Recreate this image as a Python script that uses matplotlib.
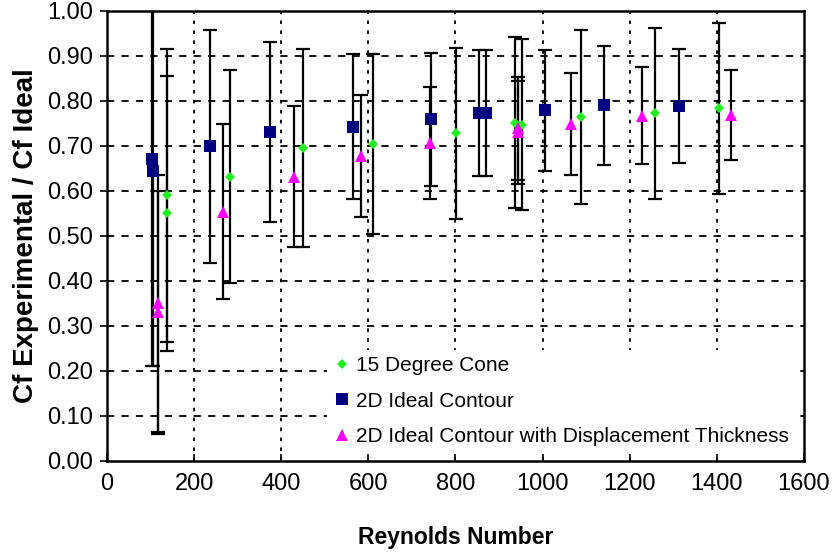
import matplotlib.pyplot as plt

plt.rcParams['font.family'] = ['Liberation Sans', 'DejaVu Sans']

# 15 degree cone
cone_re = [137, 137, 282, 449, 611, 801, 937, 952, 1088, 1258, 1405]
cone_cf = [0.590, 0.550, 0.632, 0.695, 0.704, 0.728, 0.752, 0.747, 0.764, 0.773, 0.784]
cone_err = [0.326, 0.305, 0.237, 0.220, 0.200, 0.190, 0.190, 0.190, 0.193, 0.190, 0.190]

# 2D ideal contour
ideal_re = [102, 105, 236, 374, 565, 743, 855, 870, 1006, 1141, 1314]
ideal_cf = [0.670, 0.645, 0.699, 0.730, 0.743, 0.759, 0.773, 0.773, 0.779, 0.790, 0.789]
ideal_err = [0.460, 0.435, 0.258, 0.200, 0.161, 0.148, 0.140, 0.140, 0.135, 0.133, 0.126]

# 2D ideal contour with displacement thickness
disp_re = [116, 116, 267, 429, 582, 742, 943, 943, 1065, 1228, 1433]
disp_cf = [0.350, 0.330, 0.554, 0.632, 0.678, 0.706, 0.739, 0.730, 0.749, 0.767, 0.769]
disp_err = [0.285, 0.270, 0.195, 0.157, 0.136, 0.124, 0.115, 0.115, 0.113, 0.108, 0.100]

fig = plt.figure(figsize=(8.32, 5.52), dpi=100)
ax = fig.add_axes([0.1288, 0.1649, 0.8372, 0.8152])

bar_kw = dict(fmt='none', ecolor='black', elinewidth=1.6, capsize=5, capthick=1.6, zorder=3)
ax.errorbar(ideal_re, ideal_cf, yerr=ideal_err, **bar_kw)
ax.errorbar(disp_re, disp_cf, yerr=disp_err, **bar_kw)
ax.errorbar(cone_re, cone_cf, yerr=cone_err, **bar_kw)

ax.plot(cone_re, cone_cf, 'D', color='#22ee22', markersize=5, markeredgewidth=0,
        label='15 Degree Cone', zorder=4)
ax.plot(ideal_re, ideal_cf, 's', color='#000080', markersize=9, markeredgewidth=0,
        label='2D Ideal Contour', zorder=4)
ax.plot(disp_re, disp_cf, '^', color='#ff00ff', markersize=8, markeredgewidth=0,
        label='2D Ideal Contour with Displacement Thickness', zorder=4)

ax.set_xlim(0, 1600)
ax.set_ylim(0, 1.0)
ax.set_xticks(range(0, 1601, 200))
ax.set_yticks([i / 10 for i in range(11)])
ax.set_yticklabels([f'{i / 10:.2f}' for i in range(11)])

# dashed horizontal and dotted vertical grid
for yv in [i / 10 for i in range(1, 10)]:
    ax.axhline(yv, color='black', linewidth=1.3, dashes=(4, 4), zorder=1)
for xv in range(200, 1600, 200):
    ax.axvline(xv, color='black', linewidth=1.3, dashes=(2, 3.5), zorder=1)

for side in ['top', 'right', 'bottom', 'left']:
    ax.spines[side].set_linewidth(1.8)

ax.tick_params(axis='y', direction='out', length=5, width=1.2, labelsize=17, pad=5)
ax.tick_params(axis='x', direction='in', length=5, width=1.2, labelsize=17, pad=9)

ax.set_xlabel('Reynolds Number', fontsize=16.5, fontweight='bold', labelpad=22)
ax.set_ylabel('Cf Experimental / Cf Ideal', fontsize=20, fontweight='bold', labelpad=6)

leg = ax.legend(loc='upper left', bbox_to_anchor=(0.316, 0.247), borderaxespad=0,
                frameon=True, fancybox=False, framealpha=1, facecolor='white',
                edgecolor='none', fontsize=15, handlelength=0.8, handletextpad=0.3,
                labelspacing=0.8, borderpad=0.3, numpoints=1)
leg.set_zorder(5)

fig.savefig('out.png', dpi=100)
